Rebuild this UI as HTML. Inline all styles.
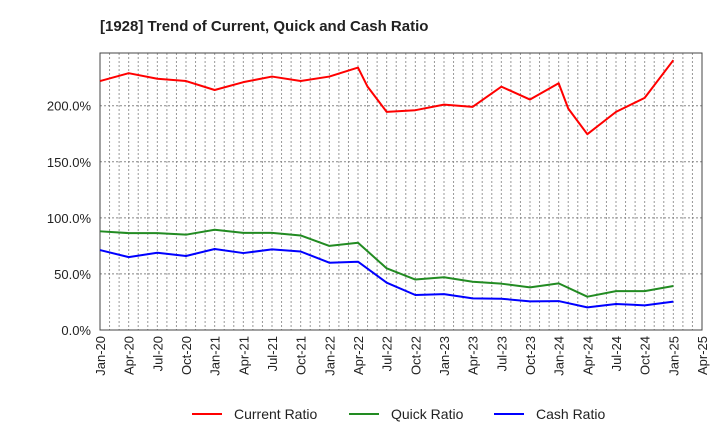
<!DOCTYPE html>
<html><head><meta charset="utf-8"><style>
body{margin:0;background:#fff;font-family:"Liberation Sans",sans-serif}
</style></head><body>
<svg id="c" width="720" height="440" xmlns="http://www.w3.org/2000/svg" font-family="Liberation Sans, sans-serif">
<text x="100" y="31" font-size="15" font-weight="bold" fill="#222">[1928]  Trend of Current, Quick and Cash Ratio</text>
<g id="grid"></g><g id="axes"></g><g id="series"></g>
<g font-size="14" fill="#222">
<g><line x1="192" y1="414" x2="222" y2="414" stroke="#f00" stroke-width="2"/><text x="234" y="419">Current Ratio</text></g>
<g><line x1="349" y1="414" x2="379" y2="414" stroke="#228b22" stroke-width="2"/><text x="391" y="419">Quick Ratio</text></g>
<g><line x1="494" y1="414" x2="524" y2="414" stroke="#00f" stroke-width="2"/><text x="536" y="419">Cash Ratio</text></g>
</g>
</svg>
<script>
const xTickLabels=["Jan-20","Apr-20","Jul-20","Oct-20","Jan-21","Apr-21","Jul-21","Oct-21","Jan-22","Apr-22","Jul-22","Oct-22","Jan-23","Apr-23","Jul-23","Oct-23","Jan-24","Apr-24","Jul-24","Oct-24","Jan-25","Apr-25"];
const yTicks=[0,50,100,150,200];
const currentMonths=[0,3,6,9,12,15,18,21,24,27,28,30,33,36,39,42,45,48,49,51,54,57,60];
const currentRatio=[222,229,224,222,214,221,226,222,226,234,217,194.5,196,201,199,217,205.5,220,197.5,174.6,194.5,207,240.6];
const qcMonths=[0,3,6,9,12,15,18,21,24,27,30,33,36,39,42,45,48,51,54,57,60];
const quickRatio=[88,86.4,86.4,85,89.4,86.6,86.6,84.3,75,77.8,55,45,47,43,41.3,38,41.6,29.7,34.7,34.7,39.2];
const cashRatio=[71.3,65,68.9,66,72.2,68.6,71.9,70,60,60.9,42.2,31.2,32,28.2,27.9,25.5,25.8,20.2,23.2,22,25.3];
const L=100,R=702,T=53,B=330,NM=63,YMAX=247;
const xs=m=>L+(R-L)*m/NM, ys=v=>B-(B-T)*v/YMAX;
const NS="http://www.w3.org/2000/svg";
function mk(tag,attrs,parent){const e=document.createElementNS(NS,tag);for(const k in attrs)e.setAttribute(k,attrs[k]);parent.appendChild(e);return e;}
const grid=document.getElementById('grid'),axes=document.getElementById('axes'),ser=document.getElementById('series');
for(let m=1;m<NM;m++){const l=mk('line',{x1:xs(m),x2:xs(m),y1:T,y2:B,stroke:'#999','stroke-dasharray':'2,2','stroke-width':1},grid);

}
yTicks.forEach(v=>{if(v>0){const l=mk('line',{x1:L,x2:R,y1:ys(v),y2:ys(v),stroke:'#888','stroke-dasharray':'2,2','stroke-width':1},grid);

}
const t=mk('text',{x:L-9,y:ys(v)+5,'text-anchor':'end','font-size':13,fill:'#222'},axes);t.textContent=v.toFixed(1)+'%';

});
const fr=mk('rect',{x:L,y:T,width:R-L,height:B-T,fill:'none',stroke:'#444','stroke-width':1},axes);


xTickLabels.forEach((s,i)=>{const x=xs(i*3);const t=mk('text',{x:0,y:0,'text-anchor':'end','font-size':13,fill:'#222',transform:`translate(${x+5},${B+6}) rotate(-90)`},axes);t.textContent=s;

});
function line(months,vals,color,name){const p=mk('polyline',{points:months.map((m,i)=>xs(m)+','+ys(vals[i])).join(' '),fill:'none',stroke:color,'stroke-width':2,'stroke-linejoin':'round'},ser);

}
line(currentMonths,currentRatio,'#f00','current-ratio-line');
line(qcMonths,quickRatio,'#228b22','quick-ratio-line');
line(qcMonths,cashRatio,'#00f','cash-ratio-line');
</script>
</body></html>
